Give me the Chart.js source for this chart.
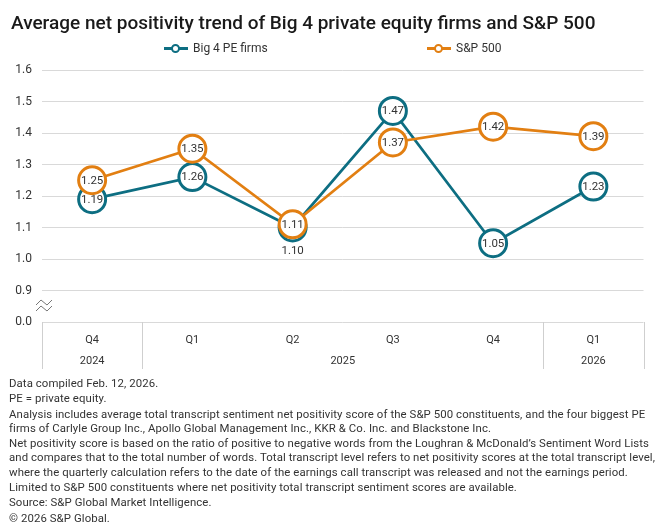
<!DOCTYPE html>
<html>
<head>
<meta charset="utf-8">
<script src="https://cdn.jsdelivr.net/npm/chart.js@4.4.1/dist/chart.umd.min.js"></script>
<style>
  body { margin: 0; background: #fff; font-family: Roboto, sans-serif; color: #222; }
  #wrap { position: relative; width: 660px; height: 530px; overflow: hidden; }
  #chart { position: absolute; left: 0; top: 0; }
  #title { position: absolute; left: 11px; top: 11px; font-size: 19px; font-weight: 500; color: #1a1a1a; white-space: nowrap; }
  .leg { position: absolute; top: 41px; font-size: 12px; color: #333; display: flex; align-items: center; white-space: nowrap; }
  .sw { position: relative; width: 24px; height: 14px; margin-right: 5px; }
  .sw i { position: absolute; left: 0; top: 6px; width: 24px; height: 3px; }
  .sw b { position: absolute; left: 7px; top: 2.5px; width: 5px; height: 5px; border-radius: 50%; border: 2.5px solid; background: #fff; }
  #notes { position: absolute; left: 9px; top: 376px; width: 648px; font-size: 11.4px; line-height: 14.3px; letter-spacing: 0.08px; color: #333; }
  #notes p { margin: 0 0 1px 0; white-space: nowrap; }
</style>
</head>
<body>
<div id="wrap">
  <canvas id="chart" width="660" height="530"></canvas>
  <div id="title">Average net positivity trend of Big 4 private equity firms and S&amp;P 500</div>
  <div class="leg" style="left:164px"><span class="sw"><i style="background:#0d6e82"></i><b style="border-color:#0d6e82"></b></span>Big 4 PE firms</div>
  <div class="leg" style="left:427px"><span class="sw"><i style="background:#e27f12"></i><b style="border-color:#e27f12"></b></span>S&amp;P 500</div>
  <div id="notes">
    <p>Data compiled Feb. 12, 2026.</p>
    <p>PE = private equity.</p>
    <p>Analysis includes average total transcript sentiment net positivity score of the S&amp;P 500 constituents, and the four biggest PE<br>firms of Carlyle Group Inc., Apollo Global Management Inc., KKR &amp; Co. Inc. and Blackstone Inc.</p>
    <p>Net positivity score is based on the ratio of positive to negative words from the Loughran &amp; McDonald’s Sentiment Word Lists<br>and compares that to the total number of words. Total transcript level refers to net positivity scores at the total transcript level,<br>where the quarterly calculation refers to the date of the earnings call transcript was released and not the earnings period.</p>
    <p>Limited to S&amp;P 500 constituents where net positivity total transcript sentiment scores are available.</p>
    <p>Source: S&amp;P Global Market Intelligence.</p>
    <p>© 2026 S&amp;P Global.</p>
  </div>
</div>
<script>
const quarters = ["Q4", "Q1", "Q2", "Q3", "Q4", "Q1"];
const years = ["2024", "2025", "2025", "2025", "2025", "2026"];
const pePoints = [1.19, 1.26, 1.10, 1.47, 1.05, 1.23];
const spPoints = [1.25, 1.35, 1.11, 1.37, 1.42, 1.39];

const teal = "#0d6e82";
const orange = "#e27f12";
const gridCol = "#d9d9d9";

// labels inside circles; PE Q2 sits under S&P circle so push it below
const valueLabels = {
  id: "valueLabels",
  afterDatasetsDraw(chart) {
    const ctx = chart.ctx;
    ctx.save();
    ctx.font = "11.5px Roboto, sans-serif";
    ctx.fillStyle = "#333";
    ctx.textAlign = "center";
    ctx.textBaseline = "middle";
    chart.data.datasets.forEach((ds, di) => {
      chart.getDatasetMeta(di).data.forEach((pt, i) => {
        let y = pt.y;
        if (ds.label === "Big 4 PE firms" && i === 2) y += 23;
        ctx.fillText(ds.data[i].toFixed(2), pt.x, y + 0.5);
      });
    });
    ctx.restore();
  }
};

// year row, group separators and the axis break mark
const yearRow = {
  id: "yearRow",
  afterDraw(chart) {
    const ctx = chart.ctx;
    const x = chart.scales.x;
    const area = chart.chartArea;
    const top = area.bottom;
    const bottom = top + 47;
    const half = (x.getPixelForValue(1) - x.getPixelForValue(0)) / 2;
    ctx.save();
    ctx.strokeStyle = "#cfcfcf";
    ctx.lineWidth = 1;
    const groups = [];
    years.forEach((y, i) => {
      const g = groups[groups.length - 1];
      if (g && g.label === y) g.end = i;
      else groups.push({ label: y, start: i, end: i });
    });
    const edges = [x.getPixelForValue(0) - half];
    groups.forEach(g => edges.push(x.getPixelForValue(g.end) + half));
    edges.forEach(ex => {
      const px = Math.round(ex) + 0.5;
      ctx.beginPath();
      ctx.moveTo(px, top);
      ctx.lineTo(px, bottom);
      ctx.stroke();
    });
    ctx.font = "11px Roboto, sans-serif";
    ctx.fillStyle = "#333";
    ctx.textAlign = "center";
    ctx.textBaseline = "middle";
    groups.forEach(g => {
      const cx = (x.getPixelForValue(g.start) + x.getPixelForValue(g.end)) / 2;
      ctx.fillText(g.label, cx, top + 39);
    });
    // break mark
    ctx.strokeStyle = "#777";
    ctx.lineWidth = 1;
    [302, 308].forEach(by => {
      ctx.beginPath();
      ctx.moveTo(36, by + 3);
      ctx.lineTo(41, by - 2);
      ctx.lineTo(47, by + 3);
      ctx.lineTo(52, by - 2);
      ctx.stroke();
    });
    ctx.restore();
  }
};

new Chart(document.getElementById("chart"), {
  type: "line",
  data: {
    labels: quarters,
    datasets: [
      {
        label: "Big 4 PE firms",
        data: pePoints,
        borderColor: teal,
        backgroundColor: "#fff",
        pointBackgroundColor: "#fff",
        borderWidth: 2.7,
        pointBorderWidth: 3,
        pointRadius: 13.5,
        order: 1
      },
      {
        label: "S&P 500",
        data: spPoints,
        borderColor: orange,
        backgroundColor: "#fff",
        pointBackgroundColor: "#fff",
        borderWidth: 2.7,
        pointBorderWidth: 3,
        pointRadius: 13.5,
        order: 0
      }
    ]
  },
  options: {
    responsive: false,
    animation: false,
    events: [],
    layout: { padding: { left: 0, top: 70, right: 16, bottom: 154 } },
    plugins: { legend: { display: false }, tooltip: { enabled: false } },
    scales: {
      x: {
        offset: true,
        grid: { display: false, offset: true },
        border: { display: false },
        ticks: { color: "#333", font: { family: "Roboto", size: 11 }, padding: 4, maxRotation: 0 },
        afterFit(s) { s.height = 54; }
      },
      y: {
        min: 0.8,
        max: 1.6,
        grid: { color: gridCol, drawTicks: false },
        border: { display: false },
        ticks: {
          stepSize: 0.1,
          padding: 10,
          color: "#333",
          font: { family: "Roboto", size: 12 },
          callback: v => (Math.abs(v - 0.8) < 1e-6 ? "0.0" : v.toFixed(1))
        },
        afterFit(s) { s.width = 42; }
      }
    }
  },
  plugins: [valueLabels, yearRow]
});
</script>
</body>
</html>
